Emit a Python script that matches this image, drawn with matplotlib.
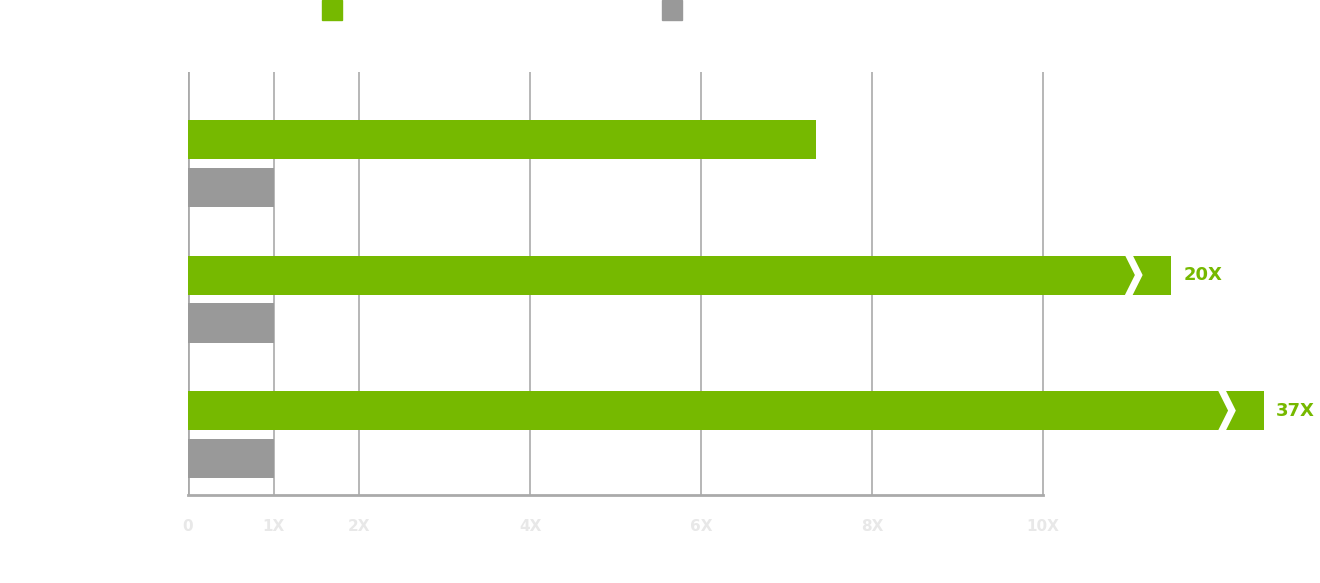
import matplotlib
matplotlib.use("Agg")
import matplotlib.pyplot as plt

categories = ["A", "B", "C"]
green_vals = [7.35, 11.5, 12.58]
gray_vals = [1, 1, 1]
green_labels = ["", "20X", "37X"]
break_at = [None, 10.99, 12.08]
ticks = [0, 1, 2, 4, 6, 8, 10]
tick_labels = ["0", "1X", "2X", "4X", "6X", "8X", "10X"]

GREEN = "#76b900"
GRAY = "#999999"
W, H = 1320, 583
fig = plt.figure(figsize=(W/100, H/100), dpi=100)
ax = fig.add_axes([188/W, 1-495/H, (W-188)/W, (495-72)/H])
ax.set_xlim(0, (W-188)/85.5)
ax.set_ylim(2.446, -0.675)
for s in ax.spines.values():
    s.set_visible(False)
ax.set_yticks([])
ax.set_xticks([])
for t, lab in zip(ticks, tick_labels):
    ax.axvline(t, color="#aaaaaa", lw=1.2, zorder=0)
    ax.text(t, 2.68, lab, ha="center", va="center", color="#e8e8e8", fontsize=11, fontweight="bold")
ax.plot([0, 10], [2.446, 2.446], color="#aaaaaa", lw=2, clip_on=False)
ax.axvline(0, color="#aaaaaa", lw=2)

ys = list(range(len(categories)))
h = 0.288
off = 0.177
ax.barh([y - off for y in ys], green_vals, height=h, color=GREEN, zorder=2)
ax.barh([y + off for y in ys], gray_vals, height=h, color=GRAY, zorder=2)
for y, v, lab, b in zip(ys, green_vals, green_labels, break_at):
    if b is not None:
        ax.plot([b, b + 0.13, b], [y - off - h/2 - 0.02, y - off, y - off + h/2 + 0.02],
                color="white", lw=5, zorder=3, solid_joinstyle="miter")
    if lab:
        ax.text(v + 0.14, y - off, lab, ha="left", va="center", color=GREEN,
                fontsize=13, fontweight="bold")

fig.patches.append(plt.Rectangle((322/W, 1-20/H), 20/W, 20/H, color=GREEN, transform=fig.transFigure))
fig.patches.append(plt.Rectangle((662/W, 1-20/H), 20/W, 20/H, color=GRAY, transform=fig.transFigure))
fig.savefig("out.png", dpi=100)
